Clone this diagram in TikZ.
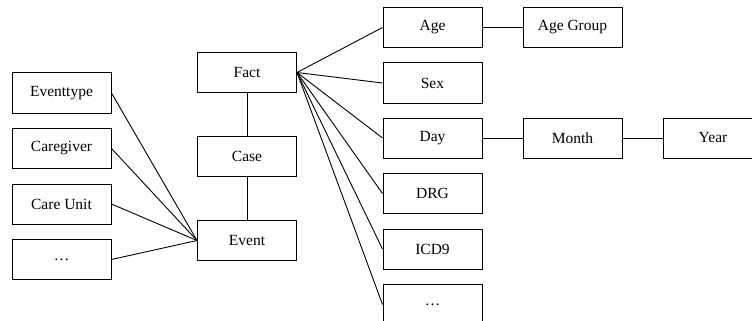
\documentclass[tikz,border=0pt]{standalone}
\usepackage{fontspec}
\setmainfont{Liberation Serif}
\begin{document}
\begin{tikzpicture}[x=1pt,y=-1pt,
  box/.style={draw, line width=1pt, minimum width=99pt, minimum height=40pt, inner sep=0pt, font=\fontsize{15.5}{18}\selectfont},
  link/.style={line width=0.9pt}]
\useasboundingbox (0,0) rectangle (752,321);
\clip (0,0) rectangle (752,321);
% left column
\node[box] (et) at (61.5,93) {Eventtype};
\node[box] (cg) at (61.5,148.5) {Caregiver};
\node[box] (cu) at (61.5,204) {Care Unit};
\node[box] (ld) at (61.5,259.5) {\raisebox{-3pt}{…}};
% middle column
\node[box] (fact) at (247,72.5) {Fact};
\node[box] (case) at (247,156.5) {Case};
\node[box] (ev) at (247,240.5) {Event};
% right column
\node[box] (age) at (432.5,27.5) {Age};
\node[box] (sex) at (432.5,83) {Sex};
\node[box] (day) at (432.5,138) {Day};
\node[box] (drg) at (432.5,193.5) {DRG};
\node[box] (icd) at (432.5,249) {ICD9};
\node[box] (rd) at (432.5,304.5) {\raisebox{-3pt}{…}};
\node[box] (ag) at (572.5,27.5) {Age Group};
\node[box] (mon) at (572.5,138) {Month};
\node[box] (yr) at (713,138) {Year};
% connectors
\foreach \n in {et,cg,cu,ld} \draw[link] (\n.east) -- (ev.west);
\draw[link] (fact) -- (case);
\draw[link] (case) -- (ev);
\foreach \n in {age,sex,day,drg,icd,rd} \draw[link] (fact.east) -- (\n.west);
\draw[link] (age) -- (ag);
\draw[link] (day) -- (mon);
\draw[link] (mon) -- (yr);
\end{tikzpicture}
\end{document}
